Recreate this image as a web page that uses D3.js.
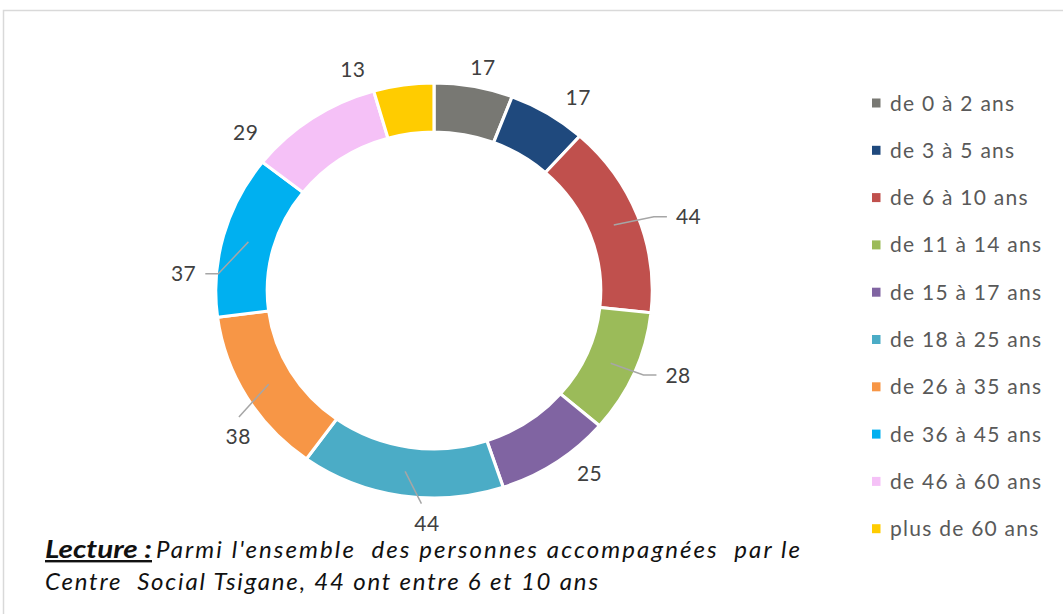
<!DOCTYPE html>
<html><head><meta charset="utf-8">
<script src="https://cdn.jsdelivr.net/npm/d3@7"></script>
<style>
html,body{margin:0;padding:0;background:#fff;}
svg{display:block;}
</style></head>
<body>
<svg id="chart" width="1063" height="614"></svg>
<script>
// ---- data ----
const categories = ["de 0 à 2 ans","de 3 à 5 ans","de 6 à 10 ans","de 11 à 14 ans","de 15 à 17 ans","de 18 à 25 ans","de 26 à 35 ans","de 36 à 45 ans","de 46 à 60 ans","plus de 60 ans"];
const values = [17,17,44,28,25,44,38,37,29,13];
const colors = ["#787873","#1F497D","#C0504D","#9BBB59","#8064A2","#4BACC6","#F79646","#00B0F0","#F5C1F7","#FFCC00"];
const leaders = [false,false,true,true,false,true,true,true,false,false];
// label layout (angle shift in degrees from slice middle, radius)
const labelShift = [1.3,3.9,4,-3.4,-5,-7,-7.3,-11.4,-14.7,-11.2];
const labelRadius = [228,237,253,247,235.5,232.6,236.5,238.6,238.5,234.5];
const noteBold = "Lecture :";
const noteLine1 = "Parmi l'ensemble  des personnes accompagnées  par le";
const noteLine2 = "Centre  Social Tsigane, 44 ont entre 6 et 10 ans";

const svg = d3.select("#chart");
const cx = 434, cy = 290.5, sx = 1.052, R = 207.5, r0 = 158.5;

// frame
svg.append("rect").attr("x",3.5).attr("y",10.5).attr("width",1100).attr("height",700)
  .attr("fill","none").attr("stroke","#D9D9D9").attr("stroke-width",1.5);

const pie = d3.pie().sort(null).value(d=>d)(values);
const arc = d3.arc().innerRadius(r0).outerRadius(R);
const g = svg.append("g").attr("transform",`translate(${cx},${cy}) scale(${sx},1)`);
g.selectAll("path").data(pie).join("path")
  .attr("d",arc).attr("fill",(d,i)=>colors[i])
  .attr("stroke","#fff").attr("stroke-width",3).attr("stroke-linejoin","miter");

// labels
const font = "Lato, 'Open Sans', sans-serif";
const pt = (a,rad)=>[cx + rad*Math.sin(a)*sx, cy - rad*Math.cos(a)];
const lg = svg.append("g");
pie.forEach((d,i)=>{
  const mid = (d.startAngle+d.endAngle)/2;
  const a = mid + labelShift[i]*Math.PI/180;
  const [lx,ly] = pt(a,labelRadius[i]);
  const t = lg.append("text").attr("x",lx).attr("y",ly).attr("dy","0.36em")
    .attr("text-anchor","middle").attr("font-family",font).attr("font-size",21)
    .attr("fill","#404040").attr("letter-spacing","0.5px").text(values[i]);
  if(leaders[i]){
    const c = arc.centroid(d); // unscaled
    const sxp = cx + c[0]*sx, syp = cy + c[1];
    const bb = t.node().getBBox();
    let pts;
    if (Math.abs(lx - cx) > 200 ) {
      if (lx > cx) pts = [[sxp,syp],[bb.x-22,ly],[bb.x-9,ly]];
      else pts = [[sxp,syp],[bb.x+bb.width+22,ly],[bb.x+bb.width+9,ly]];
    } else {
      pts = [[sxp,syp],[lx + (sxp-lx)*0.12 - 3, bb.y - 6]];
    }
    lg.append("path").attr("d",d3.line()(pts)).attr("fill","none")
      .attr("stroke","#A6A6A6").attr("stroke-width",1.5);
  }
});

// legend
const leg = svg.append("g").attr("transform","translate(872,0)");
const y0 = 103, step = 47.3;
categories.forEach((c,i)=>{
  const y = y0 + i*step;
  leg.append("rect").attr("x",0).attr("y",y-4.5).attr("width",8.5).attr("height",9).attr("fill",colors[i]);
  leg.append("text").attr("x",18).attr("y",y).attr("dy","0.36em")
    .attr("font-family",font).attr("font-size",21).attr("fill","#595959")
    .attr("letter-spacing","1.25px").text(c);
});

// note
const noteAttrs = sel => sel.attr("font-family",font).attr("font-size",24).attr("font-style","italic")
  .attr("fill","#111").style("white-space","pre");
svg.append("text").attr("x",45).attr("y",558).call(noteAttrs)
  .attr("font-weight","bold").attr("text-decoration","underline")
  .attr("textLength",107).attr("lengthAdjust","spacingAndGlyphs").text(noteBold);
svg.append("text").attr("x",156).attr("y",558).call(noteAttrs)
  .attr("textLength",644).attr("lengthAdjust","spacing").text(noteLine1);
svg.append("text").attr("x",45).attr("y",590).call(noteAttrs)
  .attr("textLength",553).attr("lengthAdjust","spacing").text(noteLine2);
</script>
</body></html>
